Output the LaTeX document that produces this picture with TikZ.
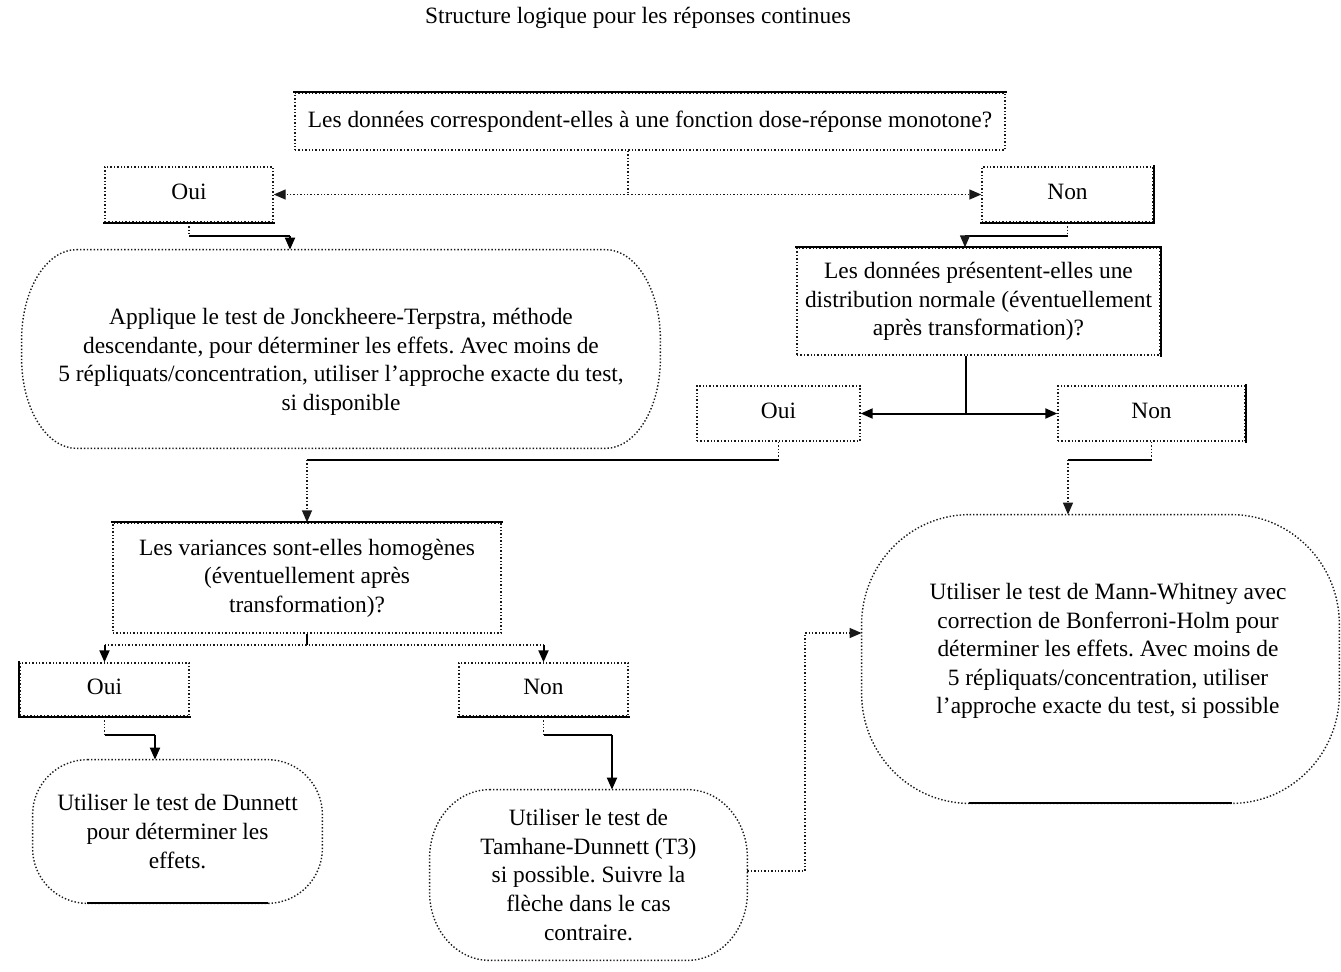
\documentclass[tikz,border=0pt]{standalone}
\usepackage{fontspec}
\setmainfont{Liberation Serif}
\usetikzlibrary{arrows.meta,calc}
\frenchspacing
\tikzset{
  dotb/.style={draw=black!90, densely dotted, line width=0.7pt},
  solb/.style={draw=black, line width=1pt, line cap=rect},
  dotl/.style={draw=black!90, densely dotted, line width=0.7pt},
  soll/.style={draw=black, line width=1pt},
  arrowed/.style={-{Triangle[length=6pt,width=5pt]}},
  qbox/.style={rectangle, dotb, inner sep=0pt, align=center},
  shp/.style={rectangle, inner sep=0pt, align=center},
  txt/.style={align=center, inner sep=0pt}
}
\newcommand\roundshape[3]{%
  \draw[dotb] ($(#1.north west)+(#2,0pt)$) -- ($(#1.north east)+(-#2,0pt)$)
    arc[start angle=90,end angle=0,x radius=#2,y radius=#3]
    -- ($(#1.south east)+(0pt,#3)$)
    arc[start angle=0,end angle=-90,x radius=#2,y radius=#3]
    -- ($(#1.south west)+(#2,0pt)$)
    arc[start angle=270,end angle=180,x radius=#2,y radius=#3]
    -- ($(#1.north west)+(0pt,-#3)$)
    arc[start angle=180,end angle=90,x radius=#2,y radius=#3] -- cycle;}
\newcommand\solidbottom[2]{%
  \draw[solb] ($(#1.south west)+(#2,0pt)$) -- ($(#1.south east)+(-#2,0pt)$);}
\newcommand\up[1]{\raisebox{2.5pt}{#1}}
\begin{document}
\begin{tikzpicture}[x=0.5pt,y=-0.5pt,
  every node/.append style={font=\fontsize{11.7}{14.3}\selectfont}]
\useasboundingbox (0,0) rectangle (1341,971);

% title
\node[txt] (title) at (638,18) {Structure logique pour les réponses continues};

% decision boxes
\node[qbox, minimum width=355pt, minimum height=28.5pt] (q1) at (650,121.5)
  {\up{Les données correspondent-elles à une fonction dose-réponse monotone?}};
\node[qbox, minimum width=84pt, minimum height=27.5pt] (Oui1) at (189,194.5) {\up{Oui}};
\node[qbox, minimum width=85.5pt, minimum height=27.5pt] (Non1) at (1067.5,194.5) {\up{Non}};
\node[qbox, minimum width=181.5pt, minimum height=53.5pt] (q2) at (978.5,301.5)
  {Les données présentent-elles une\\distribution normale (éventuellement\\après transformation)?};
\node[qbox, minimum width=81.5pt, minimum height=27.5pt] (Oui2) at (778.5,413.5) {\up{Oui}};
\node[qbox, minimum width=93.5pt, minimum height=27.5pt] (Non2) at (1151.5,413.5) {\up{Non}};
\node[qbox, minimum width=194pt, minimum height=55pt] (q3) at (307,578)
  {Les variances sont-elles homogènes\\(éventuellement après\\transformation)?};
\node[qbox, minimum width=84.5pt, minimum height=26.5pt] (Oui3) at (104.5,689.5) {\up{Oui}};
\node[qbox, minimum width=84.5pt, minimum height=26.5pt] (Non3) at (543.5,689.5) {\up{Non}};

% solid edges of the boxes
\draw[solb] (q1.north west) -- (q1.north east);
\draw[solb] (Oui1.south west) -- (Oui1.south east);
\draw[solb] (Non1.south west) -- (Non1.south east) -- (Non1.north east);
\draw[solb] (q2.north west) -- (q2.north east) -- (q2.south east);
\draw[solb] (Non2.north east) -- (Non2.south east);
\draw[solb] (q3.north west) -- (q3.north east);
\draw[solb] (Oui3.north west) -- (Oui3.south west) -- (Oui3.south east);
\draw[solb] (Non3.south west) -- (Non3.south east);

% rounded result shapes
\node[shp, minimum width=319pt, minimum height=99pt] (A) at (341,349) {};
\node[txt] (Atxt) at (341,362)
  {Applique le test de Jonckheere-Terpstra, méthode\\descendante, pour déterminer les effets. Avec moins de\\5 répliquats/concentration, utiliser l’approche exacte du test,\\si disponible};
\roundshape{A}{27.5pt}{45pt}

\node[shp, minimum width=238.5pt, minimum height=144pt] (MW) at (1100.5,659) {};
\node[txt] (MWtxt) at (1108,651)
  {Utiliser le test de Mann-Whitney avec\\correction de Bonferroni-Holm pour\\déterminer les effets. Avec moins de\\5 répliquats/concentration, utiliser\\l’approche exacte du test, si possible};
\roundshape{MW}{54pt}{55pt}
\solidbottom{MW}{54pt}

\node[shp, minimum width=144.5pt, minimum height=71.5pt] (Dun) at (177.5,831.5)
  {Utiliser le test de Dunnett\\pour déterminer les\\effets.};
\roundshape{Dun}{27.5pt}{27.5pt}
\solidbottom{Dun}{27.5pt}

\node[shp, minimum width=158.5pt, minimum height=85pt] (Tam) at (588.5,875)
  {Utiliser le test de\\Tamhane-Dunnett (T3)\\si possible. Suivre la\\flèche dans le cas\\contraire.};
\roundshape{Tam}{30pt}{34pt}

% connectors
\coordinate (j1) at (628,194.5);
\draw[dotl] (j1 |- q1.south) -- (j1);
\draw[dotl,arrowed] (j1) -- (Oui1.east);
\draw[dotl,arrowed] (j1) -- (Non1.west);

\coordinate (k1) at (290,236);
\draw[dotl] (Oui1.south) -- (Oui1.south |- k1);
\draw[soll] (Oui1.south |- k1) -- (k1);
\draw[soll,arrowed] (k1) -- (k1 |- A.north);

\coordinate (k2) at (965,236);
\draw[dotl] (Non1.south) -- (Non1.south |- k2);
\draw[soll] (Non1.south |- k2) -- (k2);
\draw[dotl,arrowed] (k2) -- (k2 |- q2.north);

\coordinate (j2) at (966,413.5);
\draw[soll] (j2 |- q2.south) -- (j2);
\draw[soll,arrowed] (j2) -- (Oui2.east);
\draw[soll,arrowed] (j2) -- (Non2.west);

\coordinate (k3) at (307,460);
\draw[dotl] (Oui2.south) -- (Oui2.south |- k3);
\draw[soll] (Oui2.south |- k3) -- (k3);
\draw[dotl,arrowed] (k3) -- (q3.north);

\coordinate (k4) at (1068,460);
\draw[dotl] (Non2.south) -- (Non2.south |- k4);
\draw[soll] (Non2.south |- k4) -- (k4);
\draw[dotl,arrowed] (k4) -- (k4 |- MW.north);

\coordinate (j3) at (307,645);
\draw[soll] (q3.south) -- (j3);
\draw[dotl] (j3 -| Oui3) -- (j3 -| Non3);
\draw[soll,arrowed] (j3 -| Oui3) -- (Oui3.north);
\draw[soll,arrowed] (j3 -| Non3) -- (Non3.north);

\coordinate (k5) at (155,735);
\draw[dotl] (Oui3.south) -- (Oui3.south |- k5);
\draw[soll] (Oui3.south |- k5) -- (k5);
\draw[soll,arrowed] (k5) -- (k5 |- Dun.north);

\coordinate (k6) at (612,735);
\draw[dotl] (Non3.south) -- (Non3.south |- k6);
\draw[soll] (Non3.south |- k6) -- (k6);
\draw[soll,arrowed] (k6) -- (k6 |- Tam.north);

\coordinate (k7) at (805,871);
\coordinate (k8) at (805,633);
\draw[dotl,arrowed] (Tam.east |- k7) -- (k7) -- (k8) -- (k8 -| MW.west);
\end{tikzpicture}
\end{document}
